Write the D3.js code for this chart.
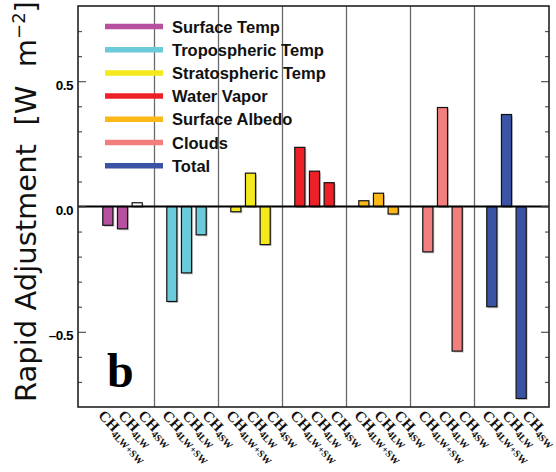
<!DOCTYPE html>
<html>
<head>
<meta charset="utf-8">
<script src="https://cdn.jsdelivr.net/npm/d3@7"></script>
<style>
  html, body { margin: 0; padding: 0; background: #fff; }
  svg { display: block; }
</style>
</head>
<body>
<div id="rapid-adjustment"></div>
<script>
// rapid adjustment components for each CH4 forcing experiment
const components = [
    "Surface Temp",
    "Tropospheric Temp",
    "Stratospheric Temp",
    "Water Vapor",
    "Surface Albedo",
    "Clouds",
    "Total"
];
const experiments = ["LW+SW", "LW", "SW"];

const lwswValues = [-0.075, -0.379, -0.021, 0.236, 0.023, -0.181, -0.400];
const lwValues   = [-0.089, -0.265,  0.133, 0.141, 0.053,  0.395,  0.367];
const swValues   = [ 0.015, -0.113, -0.152, 0.095, -0.030, -0.577, -0.766];

const componentColors = ["#b6509f", "#6bcbdb", "#f3e91c", "#ee2027", "#fbb817", "#f27e7e", "#3a53a4"];
const yMajorTicks = [-0.5, 0.0, 0.5];
const panelLetter = "b";

document.addEventListener("DOMContentLoaded", function () {

    const width = 556, height = 472;
    const plot = { left: 78, right: 549, top: 6, bottom: 407 };

    const svg = d3.select("#rapid-adjustment")
        .append("svg")
        .attr("width", width)
        .attr("height", height);

    const rows = [];
    components.forEach((c, i) => {
        [lwswValues, lwValues, swValues].forEach((vals, j) => {
            rows.push({ component: c, ci: i, experiment: experiments[j], value: vals[i] });
        });
    });

    const xGroup = d3.scaleBand()
        .domain(components)
        .range([plot.left + 12.5, plot.right - 10.5]);

    const xBar = d3.scaleBand()
        .domain(experiments)
        .range([xGroup.bandwidth() / 2 - 22, xGroup.bandwidth() / 2 + 22])
        .paddingInner(0.31)
        .paddingOuter(0.155);

    const yScale = d3.scaleLinear()
        .domain([-0.8, 0.8])
        .range([plot.bottom, plot.top]);

    // group separators
    svg.append("g")
        .selectAll("line")
        .data(components.slice(1))
        .enter()
        .append("line")
        .attr("x1", d => xGroup(d))
        .attr("x2", d => xGroup(d))
        .attr("y1", plot.top)
        .attr("y2", plot.bottom)
        .attr("stroke", "#6a6a6a")
        .attr("stroke-width", 1.3);

    // legend
    const legend = svg.append("g");
    components.forEach((c, i) => {
        const ly = 26.5 + i * 23.2;
        legend.append("line")
            .attr("x1", 105).attr("x2", 163)
            .attr("y1", ly).attr("y2", ly)
            .attr("stroke", componentColors[i])
            .attr("stroke-width", 5.5);
        legend.append("text")
            .attr("x", 172)
            .attr("y", ly + 6)
            .style("font-family", "'Liberation Sans', Arial, sans-serif")
            .style("font-weight", "bold")
            .style("font-size", "16.5px")
            .attr("fill", "#111")
            .text(c);
    });

    const barX = d => xGroup(d.component) + xBar(d.experiment);
    const barY = d => yScale(Math.max(0, d.value));
    const barH = d => Math.abs(yScale(d.value) - yScale(0));

    // soft shadow under each bar
    svg.append("g")
        .selectAll("rect")
        .data(rows)
        .enter()
        .append("rect")
        .attr("x", d => barX(d) + 1.5)
        .attr("y", d => barY(d) + 1.5)
        .attr("width", xBar.bandwidth())
        .attr("height", barH)
        .attr("fill", "#c9c9c9");

    svg.append("g")
        .selectAll("rect")
        .data(rows)
        .enter()
        .append("rect")
        .attr("x", barX)
        .attr("y", barY)
        .attr("width", xBar.bandwidth())
        .attr("height", barH)
        .attr("fill", d => (d.ci === 0 && d.experiment === "SW") ? "#ffffff" : componentColors[d.ci])
        .attr("stroke", "#111")
        .attr("stroke-width", 1.2);

    // zero line
    svg.append("line")
        .attr("x1", plot.left).attr("x2", plot.right)
        .attr("y1", yScale(0)).attr("y2", yScale(0))
        .attr("stroke", "#000")
        .attr("stroke-width", 2.2);

    // ticks on both sides, pointing inward
    const minorTicks = d3.range(-7, 8).map(v => v / 10).filter(v => Math.abs(v % 0.5) > 1e-6);
    const tickAxis = (axisFn, x, values, size) => {
        svg.append("g")
            .attr("transform", "translate(" + x + ",0)")
            .call(axisFn(yScale).tickValues(values).tickSize(-size).tickFormat(""))
            .call(g => g.select(".domain").remove())
            .selectAll("line")
            .attr("stroke", "#555")
            .attr("stroke-width", 1.2);
    };
    tickAxis(d3.axisLeft, plot.left, minorTicks, 4);
    tickAxis(d3.axisLeft, plot.left, yMajorTicks, 8);
    tickAxis(d3.axisRight, plot.right, minorTicks, 4);
    tickAxis(d3.axisRight, plot.right, yMajorTicks, 8);

    svg.append("g")
        .selectAll("text")
        .data(yMajorTicks)
        .enter()
        .append("text")
        .attr("x", 73)
        .attr("y", d => yScale(d) + 8.5)
        .attr("text-anchor", "end")
        .style("font-family", "'Liberation Sans', Arial, sans-serif")
        .style("font-weight", "bold")
        .style("font-size", "13.5px")
        .style("letter-spacing", "-0.5px")
        .text(d => d === 0 ? "0.0" : d3.format(".1f")(d).replace("\u2212", "\u2013"));

    // frame
    svg.append("rect")
        .attr("x", plot.left).attr("y", plot.top)
        .attr("width", plot.right - plot.left)
        .attr("height", plot.bottom - plot.top)
        .attr("fill", "none")
        .attr("stroke", "#222")
        .attr("stroke-width", 1.6);

    // rotated category labels
    const labelShift = { "LW+SW": -25, "LW": -5, "SW": 15 };
    const xLabels = svg.append("g")
        .selectAll("text")
        .data(rows)
        .enter()
        .append("text")
        .attr("transform", d => {
            const lx = xGroup(d.component) + xGroup.bandwidth() / 2 + labelShift[d.experiment];
            return "translate(" + lx + ",416) rotate(47)";
        })
        .style("font-family", "'Liberation Serif', 'Times New Roman', serif")
        .style("font-weight", "bold")
        .style("font-size", "15px")
        .attr("fill", "#111");
    xLabels.append("tspan").text("CH");
    xLabels.append("tspan")
        .attr("dy", 3)
        .style("font-size", "10px")
        .text(d => "4" + d.experiment);

    // y axis title
    const yTitle = svg.append("text")
        .attr("transform", "translate(36,201.5) rotate(-90)")
        .attr("text-anchor", "middle")
        .style("font-family", "'DejaVu Sans', sans-serif")
        .style("font-size", "29px")
        .style("white-space", "pre")
        .attr("fill", "#111");
    yTitle.append("tspan").text("Rapid Adjustment  [W  m");
    yTitle.append("tspan")
        .attr("dy", -11)
        .style("font-size", "18px")
        .text("\u22122");
    yTitle.append("tspan")
        .attr("dy", 11)
        .text("]");

    // panel letter
    svg.append("text")
        .attr("x", 107)
        .attr("y", 387)
        .style("font-family", "'Liberation Serif', 'Times New Roman', serif")
        .style("font-weight", "bold")
        .style("font-size", "48px")
        .attr("fill", "#000")
        .text(panelLetter);
});
</script>
</body>
</html>
